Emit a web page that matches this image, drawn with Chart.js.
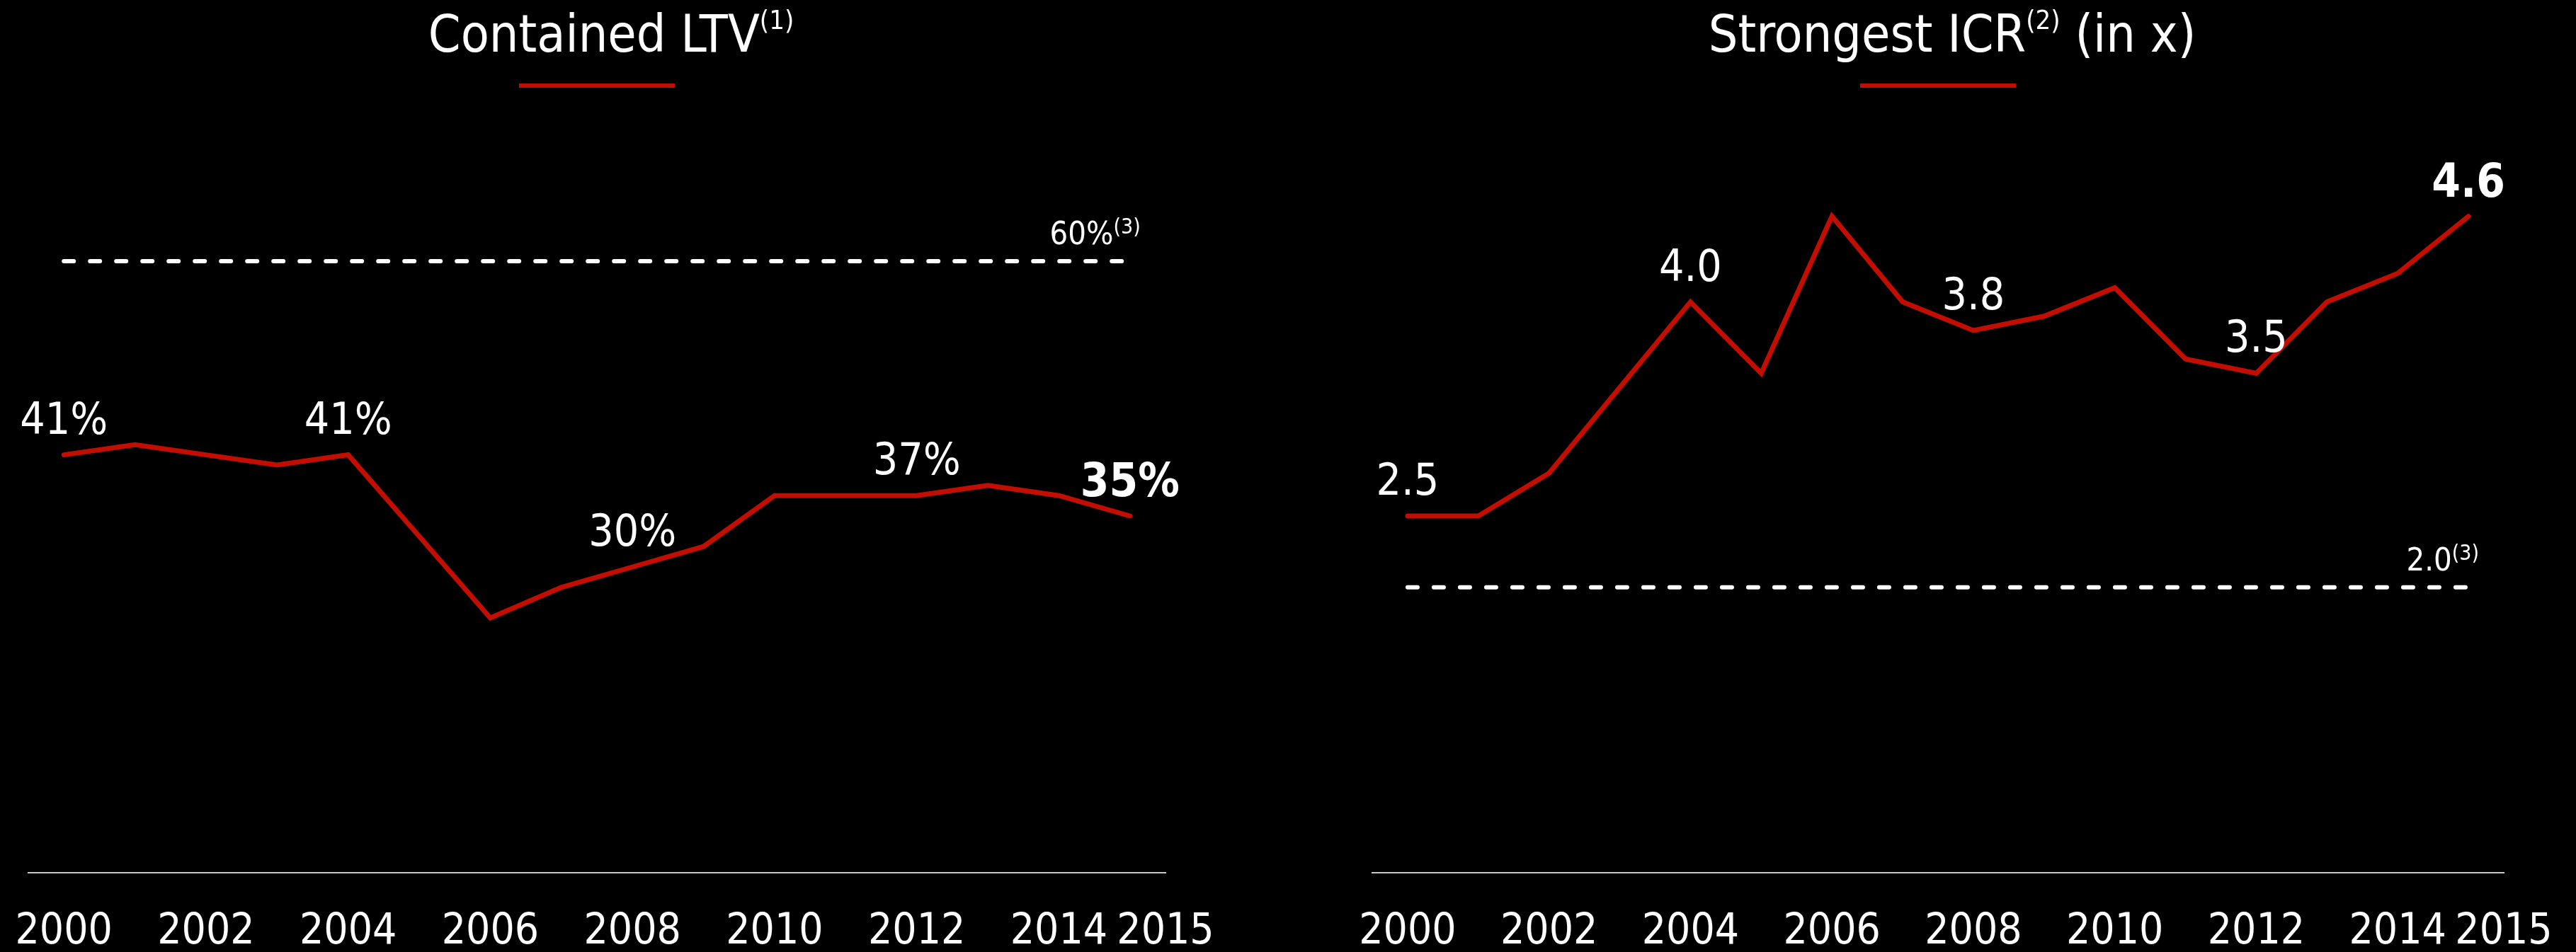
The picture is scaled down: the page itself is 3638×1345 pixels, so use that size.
<!DOCTYPE html>
<html>
<head>
<meta charset="utf-8">
<script src="https://cdn.jsdelivr.net/npm/chart.js@4.4.1/dist/chart.umd.min.js"></script>
<style>
  html, body { margin: 0; padding: 0; background: #000; }
  body { width: 3638px; height: 1345px; position: relative; overflow: hidden; }
  canvas { position: absolute; top: 0; }
  #ltv { left: 0; }
  #icr { left: 1819px; }
</style>
</head>
<body>
<canvas id="ltv" width="1819" height="1345"></canvas>
<canvas id="icr" width="1819" height="1345"></canvas>
<script>
// Years on the horizontal axis
const years = [2000, 2001, 2002, 2003, 2004, 2005, 2006, 2007, 2008, 2009, 2010, 2011, 2012, 2013, 2014, 2015];
// Loan-to-value ratio, %
const ltvValues = [41, 42, 41, 40, 41, 33, 25, 28, 30, 32, 37, 37, 37, 38, 37, 35];
// Interest cover ratio, x
const icrValues = [2.5, 2.5, 2.8, 3.4, 4.0, 3.5, 4.6, 4.0, 3.8, 3.9, 4.1, 3.6, 3.5, 4.0, 4.2, 4.6];
// Covenant thresholds
const ltvCovenant = 60;
const icrCovenant = 2.0;
// Axis tick labels
const tickLabels = ['2000', '2002', '2004', '2006', '2008', '2010', '2012', '2014', '2015'];
// Years whose values are written above the line
const labelledYears = [2000, 2004, 2008, 2012, 2015];

const FONT = "'DejaVu Sans Condensed', 'DejaVu Sans', sans-serif";
const RED = '#C10E00';

function font(size, bold) {
  return (bold ? 'bold ' : '') + size + 'px ' + FONT;
}

// Width of a text run made of [text, isSuperscript] parts
function runWidth(ctx, parts, size, supSize) {
  let w = 0;
  for (const [t, sup] of parts) {
    ctx.font = font(sup ? supSize : size);
    w += ctx.measureText(t).width;
  }
  return w;
}
function drawRun(ctx, parts, x, y, size, supSize, supRaise) {
  let cx = x;
  ctx.textAlign = 'left';
  ctx.textBaseline = 'alphabetic';
  for (const [t, sup] of parts) {
    ctx.font = font(sup ? supSize : size);
    ctx.fillText(t, cx, sup ? y - supRaise : y);
    cx += ctx.measureText(t).width;
  }
}

// Title with superscript note and a short red rule underneath
const headerPlugin = {
  id: 'header',
  afterDraw(chart, args, opts) {
    const {ctx, chartArea} = chart;
    const mid = (chartArea.left + chartArea.right) / 2;
    ctx.save();
    ctx.fillStyle = '#ffffff';
    const w = runWidth(ctx, opts.parts, 73, 38);
    drawRun(ctx, opts.parts, mid + 20 - w / 2, 73, 73, 38, 32);
    ctx.fillStyle = RED;
    ctx.fillRect(mid - 110, 118, 220, 6);
    ctx.restore();
  }
};

// Value labels above selected points and the covenant note above the dashed line
const valueLabelPlugin = {
  id: 'valueLabels',
  afterDatasetsDraw(chart, args, opts) {
    const {ctx} = chart;
    const meta = chart.getDatasetMeta(0);
    const data = chart.data.datasets[0].data;
    ctx.save();
    ctx.fillStyle = '#ffffff';
    ctx.textAlign = 'center';
    ctx.textBaseline = 'alphabetic';
    data.forEach((d, i) => {
      if (!labelledYears.includes(d.x)) return;
      const last = i === data.length - 1;
      const pt = meta.data[i];
      ctx.font = font(last ? 65 : 62, last);
      ctx.fillText(opts.format(d.y), pt.x, pt.y - (last ? 28 : 30));
    });
    // covenant note
    const cPts = chart.getDatasetMeta(1).data;
    const end = cPts[cPts.length - 1];
    const parts = [[opts.covenantText, false], ['(3)', true]];
    const w = runWidth(ctx, parts, 45, 30);
    drawRun(ctx, parts, end.x + 15 - w, end.y - 24, 45, 30, 15);
    ctx.restore();
  }
};

function makeChart(id, values, covenant, yMax, padLeft, padRight, format, covenantText, titleParts) {
  const first = years[0], last = years[years.length - 1];
  return new Chart(document.getElementById(id), {
    type: 'line',
    data: {
      datasets: [
        {
          data: years.map((y, i) => ({x: y, y: values[i]})),
          borderColor: RED,
          borderWidth: 7,
          borderCapStyle: 'round',
          borderJoinStyle: 'miter',
          pointRadius: 0,
          tension: 0,
          fill: false
        },
        {
          data: [{x: first, y: covenant}, {x: last, y: covenant}],
          borderColor: '#ffffff',
          borderWidth: 6,
          borderDash: [14, 23],
          borderCapStyle: 'round',
          pointRadius: 0,
          fill: false
        }
      ]
    },
    options: {
      responsive: false,
      animation: false,
      layout: {padding: {left: padLeft, right: padRight, top: 225, bottom: 0}},
      plugins: {
        legend: {display: false},
        tooltip: {enabled: false},
        title: {display: false},
        header: {parts: titleParts},
        valueLabels: {format: format, covenantText: covenantText}
      },
      scales: {
        x: {
          type: 'linear',
          min: first - 0.5,
          max: last + 0.5,
          grid: {display: false, drawTicks: true, tickLength: 48},
          border: {display: true, color: '#c8c8c8', width: 2},
          afterBuildTicks(scale) {
            // the final year sits half a step right so it clears its neighbour
            scale.ticks = tickLabels.map((t, i) => ({value: Number(t) + (i === tickLabels.length - 1 ? 0.5 : 0)}));
          },
          afterFit(scale) {
            scale.height = 112;
            // labels may overhang the plot edges; keep the plot area fixed
            scale.paddingLeft = 0;
            scale.paddingRight = 0;
          },
          ticks: {
            autoSkip: false,
            maxRotation: 0,
            minRotation: 0,
            padding: 0,
            color: '#ffffff',
            font: {family: FONT, size: 60},
            callback: (v, i) => tickLabels[i]
          }
        },
        y: {display: false, min: 0, max: yMax}
      }
    },
    plugins: [headerPlugin, valueLabelPlugin]
  });
}

makeChart('ltv', ltvValues, ltvCovenant, 70, 40, 173,
  v => v + '%', ltvCovenant + '%',
  [['Contained LTV', false], ['(1)', true]]);

makeChart('icr', icrValues, icrCovenant, 5, 119, 102,
  v => v.toFixed(1), icrCovenant.toFixed(1),
  [['Strongest ICR', false], ['(2)', true], [' (in x)', false]]);
</script>
</body>
</html>
